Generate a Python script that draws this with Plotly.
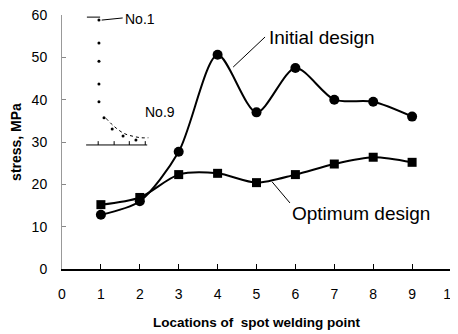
import plotly.graph_objects as go

# main data
locations = [1, 2, 3, 4, 5, 6, 7, 8, 9]
initial_design = [12.8, 16.0, 27.7, 50.6, 37.0, 47.5, 40.0, 39.5, 36.0]
optimum_design = [15.2, 16.9, 22.3, 22.6, 20.4, 22.3, 24.8, 26.4, 25.2]

x_ticks = [0, 1, 2, 3, 4, 5, 6, 7, 8, 9, 10]
y_ticks = [0, 10, 20, 30, 40, 50, 60]

# inset sketch (spot welding point layout), in main-axis units
inset_dots_x = [0.95, 0.95, 0.95, 0.95, 0.95, 1.08, 1.29, 1.57, 1.90]
inset_dots_y = [58.8, 53.4, 49.1, 43.7, 39.5, 35.7, 33.1, 31.4, 30.5]
inset_top_x = [0.64, 0.98]
inset_top_y = [59.5, 59.5]
inset_base_x = [0.62, 2.19]
inset_base_y = [29.3, 29.3]
inset_curve_x = [1.13, 1.35, 1.6, 1.85, 2.05, 2.22]
inset_curve_y = [35.6, 33.6, 32.0, 31.3, 31.0, 31.0]
inset_tick_x = [0.93, 1.34, 1.73, 2.14]

fig = go.Figure()

fig.add_trace(go.Scatter(
    x=locations, y=initial_design, mode="lines+markers",
    line=dict(color="black", width=2, shape="spline", smoothing=0.8),
    marker=dict(symbol="circle", size=10, color="black"),
    showlegend=False))
fig.add_trace(go.Scatter(
    x=locations, y=optimum_design, mode="lines+markers",
    line=dict(color="black", width=2, shape="spline", smoothing=0.8),
    marker=dict(symbol="square", size=9, color="black"),
    showlegend=False))

# inset
fig.add_trace(go.Scatter(x=inset_dots_x, y=inset_dots_y, mode="markers",
                         marker=dict(color="black", size=3), showlegend=False))
fig.add_trace(go.Scatter(x=inset_top_x, y=inset_top_y, mode="lines",
                         line=dict(color="black", width=1), showlegend=False))
fig.add_trace(go.Scatter(x=inset_base_x, y=inset_base_y, mode="lines",
                         line=dict(color="black", width=1), showlegend=False))
fig.add_trace(go.Scatter(x=inset_curve_x, y=inset_curve_y, mode="lines",
                         line=dict(color="black", width=1, dash="dot", shape="spline"),
                         showlegend=False))
for tx in inset_tick_x:
    fig.add_shape(type="line", x0=tx, x1=tx, y0=29.3, y1=30.2,
                  line=dict(color="black", width=1))

# leader lines
fig.add_shape(type="line", x0=4.40, y0=47.7, x1=5.22, y1=54.8, line=dict(color="black", width=1))
fig.add_shape(type="line", x0=5.40, y0=20.6, x1=5.86, y1=15.6, line=dict(color="black", width=1))
fig.add_shape(type="line", x0=1.02, y0=58.8, x1=1.56, y1=59.3, line=dict(color="black", width=1))

font = "Liberation Sans, Arial, sans-serif"
fig.add_annotation(x=5.28, y=54.8, text="Initial design", showarrow=False,
                   xanchor="left", yanchor="middle", font=dict(size=19, color="black", family=font))
fig.add_annotation(x=5.86, y=13.2, text="Optimum design", showarrow=False,
                   xanchor="left", yanchor="middle", font=dict(size=19, color="black", family=font))
fig.add_annotation(x=1.57, y=59.0, text="No.1", showarrow=False,
                   xanchor="left", yanchor="middle", font=dict(size=14, color="black", family=font))
fig.add_annotation(x=2.08, y=37.1, text="No.9", showarrow=False,
                   xanchor="left", yanchor="middle", font=dict(size=14, color="black", family=font))

fig.update_layout(
    width=450, height=326,
    margin=dict(l=54, r=7, t=7, b=65, autoexpand=False),
    paper_bgcolor="white", plot_bgcolor="white",
    font=dict(family=font, color="black", size=14),
    xaxis=dict(range=[0, 10], tickvals=x_ticks, ticks="inside", ticklen=5,
               tickcolor="black", showline=True, linecolor="black", linewidth=1.5,
               showgrid=False, zeroline=False, ticklabelstandoff=11,
               ticklabeloverflow="allow", automargin=False,
               title=dict(text="<b>Locations of  spot welding point</b>", standoff=17,
                          font=dict(size=13.5))),
    yaxis=dict(range=[0, 60], tickvals=y_ticks, ticks="inside", ticklen=4,
               tickcolor="#888888", showline=True, linecolor="#999999", linewidth=1,
               showgrid=False, zeroline=False, ticklabelstandoff=11, automargin=False,
               ticklabeloverflow="allow",
               title=dict(text="<b>stress, MPa</b>", standoff=10, font=dict(size=14))),
)

fig.write_html("out.html")
